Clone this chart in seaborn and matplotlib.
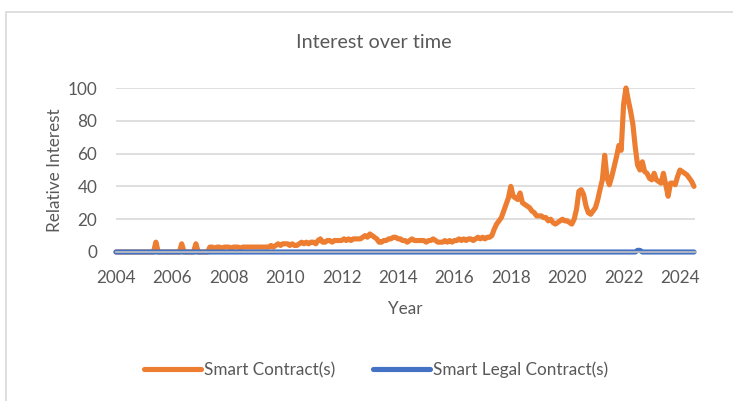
import matplotlib
matplotlib.use('Agg')
import matplotlib.pyplot as plt
import matplotlib.dates as mdates
from matplotlib.patches import Rectangle
from matplotlib.lines import Line2D
import numpy as np
import pandas as pd
import seaborn as sns

# monthly Google Trends style values, Jan 2004 .. Jul 2024
smart_contract = [
    0, 0, 0, 0, 0, 0, 0, 0, 0, 0, 0, 0,            # 2004
    0, 0, 0, 0, 0, 6, 0, 0, 0, 0, 0, 0,            # 2005
    0, 0, 0, 0, 5, 0, 0, 0, 0, 0, 5, 0,            # 2006
    0, 0, 0, 0, 3, 3, 2, 3, 3, 2, 3, 3,            # 2007
    3, 2, 3, 3, 3, 2, 3, 3, 3, 3, 3, 3,            # 2008
    3, 3, 3, 3, 3, 3, 4, 3, 4, 5, 4, 5,            # 2009
    5, 5, 4, 5, 4, 4, 5, 6, 5, 6, 5, 6,            # 2010
    6, 5, 7, 8, 6, 6, 7, 7, 6, 7, 7, 7,            # 2011
    7, 8, 7, 8, 7, 8, 8, 8, 8, 9, 10, 9,           # 2012
    11, 10, 9, 8, 6, 6, 7, 7, 8, 8, 9, 9,          # 2013
    8, 8, 7, 7, 6, 7, 8, 7, 7, 7, 7, 7,            # 2014
    6, 7, 7, 8, 7, 6, 6, 6, 7, 6, 7, 6,            # 2015
    7, 7, 8, 7, 8, 7, 8, 8, 7, 8, 9, 8,            # 2016
    9, 8, 9, 9, 10, 14, 17, 19, 21, 25, 29, 33,    # 2017
    40, 34, 33, 32, 36, 30, 29, 28, 27, 25, 24, 22,  # 2018
    22, 22, 21, 21, 19, 20, 18, 17, 18, 19, 20, 19,  # 2019
    19, 18, 17, 20, 26, 37, 38, 35, 28, 24, 23, 25,  # 2020
    27, 32, 38, 44, 59, 45, 41, 46, 52, 58, 65, 62,  # 2021
    90, 100, 93, 86, 78, 64, 53, 50, 55, 49, 48, 45,  # 2022
    44, 48, 44, 43, 42, 48, 41, 34, 42, 42, 41, 46,  # 2023
    50, 49, 48, 47, 45, 43, 40,                       # 2024
]
smart_legal = [0] * 219 + [0, 0, 0, 1, 1, 0] + [0] * 22

months = pd.date_range('2004-01-01', periods=len(smart_contract), freq='MS')
year_ticks = pd.date_range('2004-01-01', '2024-01-01', freq='2YS')
minor_ticks = pd.date_range('2004-01-01', '2024-01-01', freq='YS')

df = pd.DataFrame({
    'month': np.concatenate([months, months]),
    'value': smart_contract + smart_legal,
    'series': ['Smart Contract(s)'] * len(months) + ['Smart Legal Contract(s)'] * len(months),
})

sns.set_theme(style='white')
plt.rcParams['font.family'] = ['Lato', 'DejaVu Sans']
grey = '#595959'
orange = '#ED7D31'
blue = '#4472C4'
fs = 12.3

fig = plt.figure(figsize=(7.33, 4.01), dpi=100)
ax = fig.add_axes([116 / 733, 1 - 252 / 401, (695 - 116) / 733, (252 - 88) / 401])

sns.lineplot(data=df, x='month', y='value', hue='series',
             palette=[orange, blue], linewidth=3.7, legend=False, ax=ax)
for ln in ax.lines:
    ln.set_clip_on(False)
    ln.set_solid_capstyle('round')
    ln.set_solid_joinstyle('round')

ax.set_ylim(0, 100)
ax.set_yticks(range(0, 101, 20))
ax.set_xlim(pd.Timestamp('2004-01-01'), pd.Timestamp('2024-07-14'))
ax.set_xticks(year_ticks)
ax.xaxis.set_major_formatter(mdates.DateFormatter('%Y'))
ax.set_xticks(minor_ticks, minor=True)
ax.tick_params(axis='x', which='minor', length=5, color='#BFBFBF', width=1, direction='out')
ax.tick_params(axis='x', which='major', length=0, labelsize=fs, labelcolor=grey, pad=13)
ax.tick_params(axis='y', length=0, labelsize=fs, labelcolor=grey, pad=13.5)
ax.grid(axis='y', color='#D9D9D9', linewidth=1.2)
ax.set_axisbelow(True)
for s in ['top', 'right', 'left']:
    ax.spines[s].set_visible(False)
ax.spines['bottom'].set_color('#BFBFBF')

ax.set_xlabel('Year', fontsize=fs, color=grey, labelpad=11)
ax.set_ylabel('Relative Interest', fontsize=fs, color=grey)
ax.yaxis.set_label_coords(-0.092, 0.5)
fig.text(374 / 733, 1 - 43 / 401, 'Interest over time', ha='center', va='center',
         fontsize=14.3, color=grey)

handles = [Line2D([0], [0], color=orange, lw=3.7, solid_capstyle='round'),
           Line2D([0], [0], color=blue, lw=3.7, solid_capstyle='round')]
fig.legend(handles, ['Smart Contract(s)', 'Smart Legal Contract(s)'],
           loc='center', bbox_to_anchor=(376 / 733, 1 - 370 / 401), ncol=2,
           frameon=False, fontsize=fs, labelcolor=grey, handlelength=3.35,
           handletextpad=0.15, columnspacing=2.2)

fig.patches.append(Rectangle((6 / 733, -0.05), 1.0, 1 - 12 / 401 + 0.05,
                             transform=fig.transFigure, fill=False,
                             edgecolor='#D9D9D9', linewidth=1.2))

fig.savefig('out.png', dpi=100)
